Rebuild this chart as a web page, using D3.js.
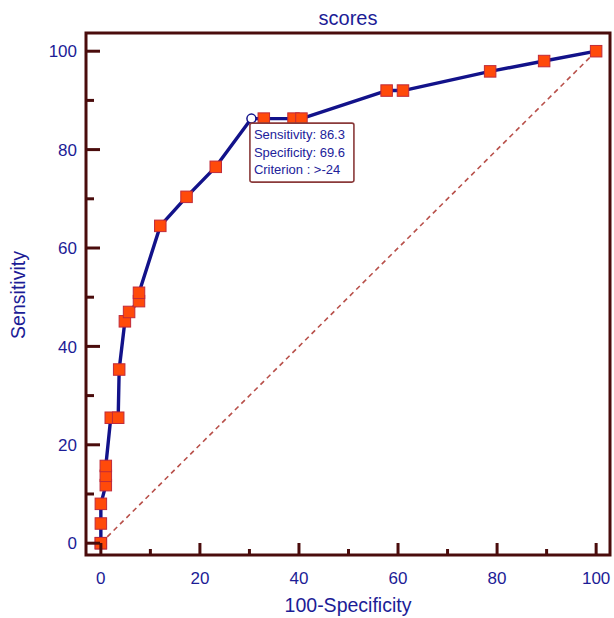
<!DOCTYPE html>
<html><head><meta charset="utf-8">
<script src="https://cdn.jsdelivr.net/npm/d3@7"></script>
<style>body{margin:0;background:#fff}svg{display:block}</style>
</head><body>
<script>
// ROC curve points: 100-Specificity (x) and Sensitivity (y)
const fpr = [0, 0, 0, 0, 1.0, 1.0, 1.0, 2.0, 3.5, 3.7, 4.85, 5.7, 7.7, 7.7, 12.0, 17.3, 23.2, 30.4, 32.9, 38.9, 40.5, 57.7, 61.0, 78.6, 89.5, 100];
const tpr = [0, 0, 4.0, 8.0, 11.8, 13.7, 15.7, 25.5, 25.5, 35.3, 45.1, 47.0, 49.2, 50.9, 64.5, 70.4, 76.5, 86.3, 86.3, 86.3, 86.3, 92.0, 92.0, 95.9, 98.0, 100];
const markerShown = [true, true, true, true, true, true, true, true, true, true, true, true, true, true, true, true, true, false, true, true, true, true, true, true, true, true];
const criterion = {x: 30.4, y: 86.3};
const criterionLabels = ["Sensitivity: 86.3", "Specificity: 69.6", "Criterion : >-24"];
const xTicks = [0, 20, 40, 60, 80, 100];
const yTicks = [0, 20, 40, 60, 80, 100];
const minorTicks = [10, 30, 50, 70, 90];

const W = 614, H = 618;
const svg = d3.select("body").append("svg").attr("width", W).attr("height", H);
const L = 86, R = 610, T = 33, B = 555;
const x = d3.scaleLinear().domain([-3.0, 102.8]).range([L, R]);
const y = d3.scaleLinear().domain([-2.4, 103.7]).range([B, T]);
const axisCol = "#4a0c0c", textCol = "#1c1c96";
const font = "Arial, Liberation Sans, sans-serif";

// diagonal reference
svg.append("line").attr("x1", x(0)).attr("y1", y(0)).attr("x2", x(100)).attr("y2", y(100))
  .attr("stroke", "#b8504a").attr("stroke-width", 1.6).attr("stroke-dasharray", "5,4");

// ROC line
const pts = fpr.map((v, i) => [v, tpr[i]]);
svg.append("path").attr("d", d3.line().x(d => x(d[0])).y(d => y(d[1]))(pts))
  .attr("fill", "none").attr("stroke", "#12128a").attr("stroke-width", 3.4).attr("stroke-linejoin", "round");

// markers
const s = 11.5;
svg.selectAll("rect.m").data(pts.filter((d, i) => markerShown[i])).join("rect").attr("class", "m")
  .attr("x", d => x(d[0]) - s / 2).attr("y", d => y(d[1]) - s / 2).attr("width", s).attr("height", s)
  .attr("fill", "#ff4a0a").attr("stroke", "#c02a3a").attr("stroke-width", 1);

// criterion point
svg.append("circle").attr("cx", x(criterion.x)).attr("cy", y(criterion.y)).attr("r", 4.5)
  .attr("fill", "#fff").attr("stroke", "#12128a").attr("stroke-width", 1.5);

// annotation box
const bx = x(criterion.x) - 1.5, by = y(criterion.y) + 4.5;
svg.append("rect").attr("x", bx).attr("y", by).attr("width", 104).attr("height", 59).attr("rx", 2)
  .attr("fill", "#fff").attr("stroke", "#8a3a3a").attr("stroke-width", 1.6);
svg.selectAll("text.ann").data(criterionLabels).join("text").attr("class", "ann")
  .attr("x", bx + 4).attr("y", (d, i) => by + 16 + i * 17.5)
  .attr("font-family", font).attr("font-size", 13)
  .attr("fill", "#22229a").text(d => d);

// frame
svg.append("rect").attr("x", L).attr("y", T).attr("width", R - L).attr("height", B - T)
  .attr("fill", "none").attr("stroke", axisCol).attr("stroke-width", 3);

// y ticks
svg.selectAll("line.ym").data(yTicks).join("line").attr("class", "ym")
  .attr("x1", L).attr("x2", L + 14).attr("y1", d => y(d)).attr("y2", d => y(d))
  .attr("stroke", axisCol).attr("stroke-width", 3);
svg.selectAll("line.yn").data(minorTicks).join("line").attr("class", "yn")
  .attr("x1", L).attr("x2", L + 8).attr("y1", d => y(d)).attr("y2", d => y(d))
  .attr("stroke", axisCol).attr("stroke-width", 3);
svg.selectAll("text.yl").data(yTicks).join("text").attr("class", "yl")
  .attr("x", L - 9).attr("y", d => y(d)).attr("dy", "0.36em").attr("text-anchor", "end")
  .attr("font-family", font).attr("font-size", 17)
  .attr("fill", textCol).text(d => d);

// x ticks
svg.selectAll("line.xm").data(xTicks).join("line").attr("class", "xm")
  .attr("x1", d => x(d)).attr("x2", d => x(d)).attr("y1", B).attr("y2", B - 12)
  .attr("stroke", axisCol).attr("stroke-width", 3);
svg.selectAll("line.xn").data(minorTicks).join("line").attr("class", "xn")
  .attr("x1", d => x(d)).attr("x2", d => x(d)).attr("y1", B).attr("y2", B - 6)
  .attr("stroke", axisCol).attr("stroke-width", 3);
svg.selectAll("text.xl").data(xTicks).join("text").attr("class", "xl")
  .attr("x", d => x(d)).attr("y", B + 29).attr("text-anchor", "middle")
  .attr("font-family", font).attr("font-size", 17)
  .attr("fill", textCol).text(d => d);

// titles
svg.append("text").attr("x", 348).attr("y", 25).attr("text-anchor", "middle")
  .attr("font-family", font).attr("font-size", 20)
  .attr("fill", textCol).text("scores");
svg.append("text").attr("x", (L + R) / 2).attr("y", 612).attr("text-anchor", "middle")
  .attr("font-family", font).attr("font-size", 19.5)
  .attr("fill", textCol).text("100-Specificity");
svg.append("text").attr("transform", `translate(25,295) rotate(-90)`).attr("text-anchor", "middle")
  .attr("font-family", font).attr("font-size", 19.5)
  .attr("fill", textCol).text("Sensitivity");
</script>
</body></html>
